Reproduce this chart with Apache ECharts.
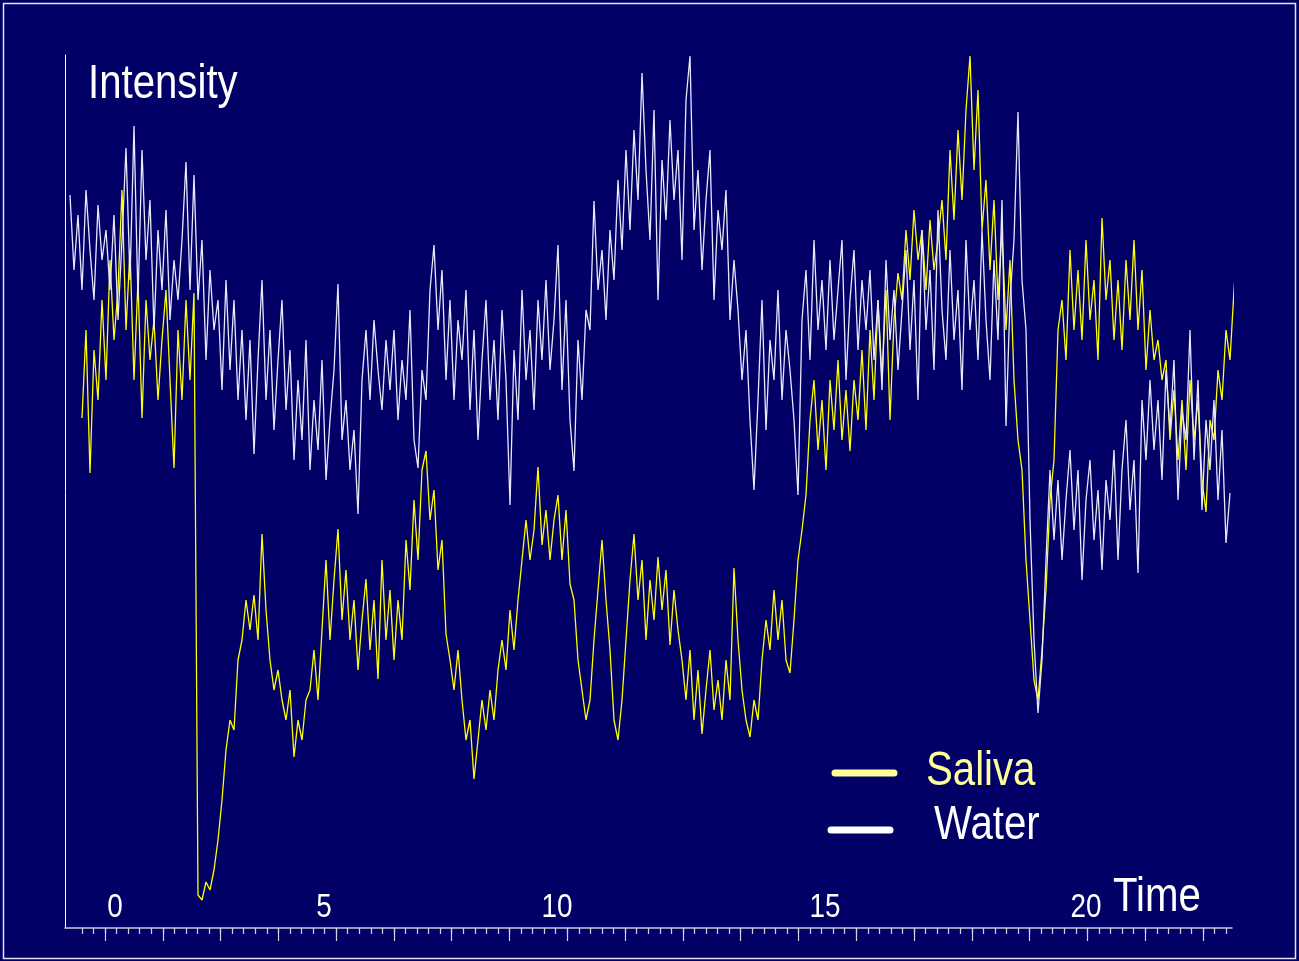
<!DOCTYPE html>
<html><head><meta charset="utf-8">
<script src="https://cdn.jsdelivr.net/npm/echarts@6/dist/echarts.min.js"></script>
<style>html,body{margin:0;padding:0;background:#000066;}#c{width:1299px;height:961px;}</style>
</head><body><div id="c"></div>
<script>
// ---- data ----
const seriesNames = ['Saliva', 'Water'];
const tickLabels = ['0', '5', '10', '15', '20'];
const axisTitleX = 'Time';
const axisTitleY = 'Intensity';
// time of first sample and sampling step (arbitrary time units)
const salivaStart = 17, waterStart = 5, sampleStep = 4;

const saliva = [
510,598,455,578,528,628,548,668,588,638,
738,598,678,548,648,510,628,568,608,528,
588,638,548,460,598,528,628,548,635,33,
28,46,38,58,88,128,178,208,198,268,
288,328,298,333,288,394,318,268,238,258,
228,208,238,171,208,188,228,238,278,228,
298,368,288,348,399,308,358,288,328,258,
308,349,278,328,249,368,288,338,268,328,
288,388,338,428,368,458,477,408,438,358,
388,294,268,238,278,228,188,208,149,188,
228,198,238,208,258,288,258,318,278,328,
368,408,368,398,461,383,418,368,408,433,
368,418,344,328,268,238,208,228,288,338,
388,328,278,208,188,228,288,348,394,328,
368,288,348,308,371,318,358,283,338,298,
268,228,278,208,258,194,238,278,218,248,
208,268,228,360,288,238,208,191,228,208,
268,308,278,338,288,328,268,255,308,368,
398,433,508,548,478,528,458,548,498,568,
488,538,477,548,508,578,498,598,528,628,
548,638,508,608,655,628,698,648,718,668,
698,638,708,658,688,728,668,778,708,798,
728,818,872,758,838,698,748,658,728,628,
698,598,668,548,488,458,368,308,248,228,
278,338,428,468,598,628,568,678,598,658,
588,688,608,648,568,710,628,668,588,648,
578,668,608,688,598,658,558,618,568,588,
548,568,488,538,468,528,458,548,488,528,
448,416,508,488,558,528,598,568,638,697,
616
];

const water = [
733,658,713,638,738,678,628,723,668,698,
638,713,608,688,780,648,802,628,778,668,
728,598,698,638,718,608,668,628,688,766,
638,753,628,688,568,658,598,628,538,648,
558,628,528,598,508,588,474,568,648,528,
598,498,568,628,518,578,468,548,488,588,
458,528,478,568,448,508,558,644,488,528,
458,498,414,548,598,528,608,558,518,588,
538,598,508,568,528,618,488,460,558,528,
638,683,598,658,548,628,528,608,568,638,
518,598,488,568,628,528,588,508,618,548,
423,578,508,638,548,598,518,628,568,648,
558,608,683,538,628,508,457,588,528,618,
598,727,638,678,608,698,648,748,678,778,
698,798,728,855,758,688,818,628,768,708,
808,728,778,668,828,872,698,758,658,728,
778,628,718,678,738,608,668,618,548,598,
508,438,528,628,498,588,548,638,528,598,
558,508,433,608,658,568,688,598,648,578,
668,588,638,688,548,628,678,578,648,598,
658,568,628,538,668,588,638,558,618,678,
578,648,528,698,598,658,558,718,618,568,
678,588,638,538,688,598,648,568,698,608,
548,668,588,728,502,628,688,816,648,598,
408,288,215,268,368,458,388,448,368,428,
478,398,458,348,428,468,388,438,358,448,
408,478,368,458,508,418,468,355,528,468,
548,478,528,448,558,498,568,428,518,488,
598,468,548,418,508,458,528,428,498,385,
435
];

// ---- chart ----
const FONT = "'Liberation Sans Narrow','Arial Narrow','Liberation Sans',sans-serif";
const BG = '#000066';
const NARROW = 0.82;   // horizontal condensing of the text (narrow face)
const toPairs = (arr, start) => arr.map((v, i) => [start + i * sampleStep, v]);

const chart = echarts.init(document.getElementById('c'), null, {renderer: 'canvas'});

function label(text, x, y, size, color, align) {
  return {type: 'text', x: x, y: y, scaleX: NARROW, scaleY: 1,
          style: {text: text, font: size + 'px ' + FONT, fill: color, verticalAlign: 'middle', align: align || 'left'}};
}

const tickLabelPos = [115, 324, 557, 825, 1086];
const graphic = [
  {type: 'rect', shape: {x: 3.5, y: 3.5, width: 1292, height: 955}, style: {fill: null, stroke: '#e4e4f4', lineWidth: 1.5}, silent: true},
  label(axisTitleY, 88, 84, 49, '#ffffff'),
  label(axisTitleX, 1113, 897, 49, '#ffffff'),
  // legend
  {type: 'line', shape: {x1: 835, y1: 773, x2: 894, y2: 773}, style: {stroke: '#ffff99', lineWidth: 7, lineCap: 'round'}},
  label(seriesNames[0], 926, 771, 49, '#ffff99'),
  {type: 'line', shape: {x1: 831, y1: 830, x2: 890, y2: 830}, style: {stroke: '#ffffff', lineWidth: 7, lineCap: 'round'}},
  label(seriesNames[1], 934, 825, 49, '#ffffff')
];
tickLabels.forEach((t, i) => {
  graphic.push(label(t, tickLabelPos[i], 908, 34, '#ffffff', 'center'));
});

const hiddenY = (g) => ({gridIndex: g, type: 'value', show: false, min: 0, max: 1});

chart.setOption({
  backgroundColor: BG,
  animation: false,
  grid: [
    {left: 65, right: 67, top: 55, bottom: 33},
    {left: 81.87, right: 72.9, top: 55, bottom: 33},
    {left: 105.0, right: 96, top: 55, bottom: 33}
  ],
  xAxis: [
    {gridIndex: 0, type: 'value', min: 0, max: 1167,
     axisLine: {show: true, onZero: false, lineStyle: {color: '#c8c8e0', width: 1.5}},
     axisTick: {show: false}, axisLabel: {show: false}, splitLine: {show: false}},
    {gridIndex: 1, type: 'value', min: 3, max: 102, interval: 1,
     axisLine: {show: false}, axisTick: {show: true, length: 6, lineStyle: {color: '#d0d0e8', width: 1.2}},
     axisLabel: {show: false}, splitLine: {show: false}},
    {gridIndex: 2, type: 'value', min: 5, max: 100, interval: 5,
     axisLine: {show: false}, axisTick: {show: true, length: 13, lineStyle: {color: '#d0d0e8', width: 1.2}},
     axisLabel: {show: false}, splitLine: {show: false}}
  ],
  yAxis: [
    {gridIndex: 0, type: 'value', min: 0, max: 873,
     axisLine: {show: true, onZero: false, lineStyle: {color: '#ffffff', width: 1}},
     axisTick: {show: false}, axisLabel: {show: false}, splitLine: {show: false}},
    hiddenY(1), hiddenY(2)
  ],
  series: [
    {name: seriesNames[0], type: 'line', xAxisIndex: 0, yAxisIndex: 0, data: toPairs(saliva, salivaStart),
     symbol: 'none', showSymbol: false, lineStyle: {color: '#ffff00', width: 1.3}, itemStyle: {color: '#ffff00'}, z: 2},
    {name: seriesNames[1], type: 'line', xAxisIndex: 0, yAxisIndex: 0, data: toPairs(water, waterStart),
     symbol: 'none', showSymbol: false, lineStyle: {color: '#e8e8ff', width: 1.3}, itemStyle: {color: '#e8e8ff'}, z: 3}
  ],
  graphic: graphic
});
</script>
</body></html>
